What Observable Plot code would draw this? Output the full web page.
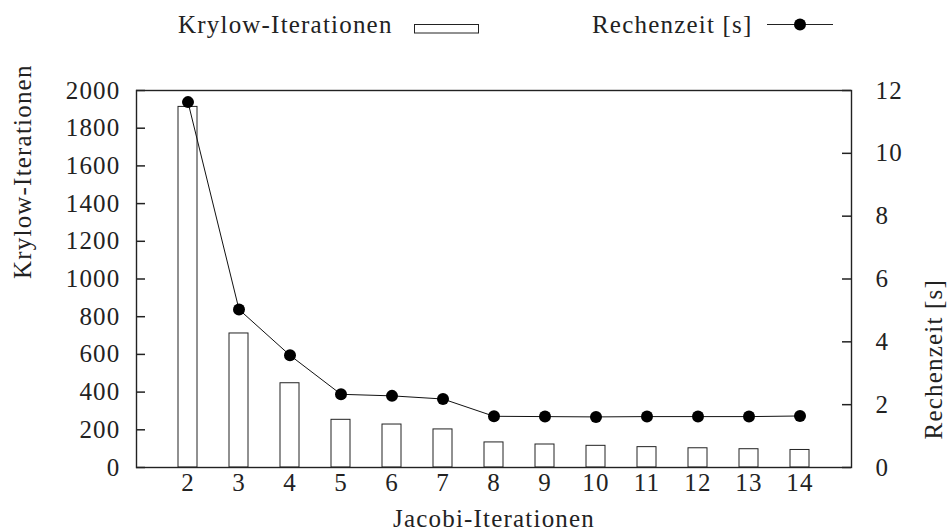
<!DOCTYPE html>
<html>
<head>
<meta charset="utf-8">
<script src="https://cdn.jsdelivr.net/npm/d3@7"></script>
<script src="https://cdn.jsdelivr.net/npm/@observablehq/plot@0.6"></script>
<style>
  html, body { margin: 0; padding: 0; background: white; }
  #wrap { width: 950px; font-family: "Liberation Serif", serif; }
  #legend text { font-family: "Liberation Serif", serif; font-size: 25px; letter-spacing: 1.2px; fill: #222; }
</style>
</head>
<body>
<div id="wrap">
  <svg id="legend" width="950" height="60"></svg>
  <div id="chart"></div>
</div>
<script>
// ---- data ----
const jacobi = [2, 3, 4, 5, 6, 7, 8, 9, 10, 11, 12, 13, 14];
const krylow = [1913, 711, 447, 253, 228, 202, 133, 122, 115, 108, 102, 97, 93];
const rechenzeit = [11.63, 5.03, 3.57, 2.33, 2.28, 2.18, 1.63, 1.62, 1.61, 1.62, 1.62, 1.62, 1.64];
const leftTicks = [0, 200, 400, 600, 800, 1000, 1200, 1400, 1600, 1800, 2000];
const rightTicks = [0, 2, 4, 6, 8, 10, 12];
const yMax = 2000, tMax = 12;
const labels = {x: "Jacobi-Iterationen", yLeft: "Krylow-Iterationen", yRight: "Rechenzeit [s]"};

const rows = jacobi.map((j, i) => ({j, k: krylow[i], t: rechenzeit[i]}));
const toLeft = (t) => t * yMax / tMax;

// ---- legend ----
const lg = d3.select("#legend");
lg.append("text").attr("x", 178).attr("y", 33).text(labels.yLeft);
lg.append("rect").attr("x", 414.5).attr("y", 24.5).attr("width", 64).attr("height", 8.5)
  .attr("fill", "white").attr("stroke", "#222").attr("stroke-width", 1);
lg.append("text").attr("x", 592).attr("y", 33).text(labels.yRight);
lg.append("line").attr("x1", 767).attr("x2", 833).attr("y1", 24.5).attr("y2", 24.5)
  .attr("stroke", "#222").attr("stroke-width", 1);
lg.append("circle").attr("cx", 800).attr("cy", 24.5).attr("r", 6).attr("fill", "black");

// ---- chart ----
const chart = Plot.plot({
  width: 950,
  height: 472,
  marginTop: 26,
  marginBottom: 69,
  marginLeft: 136,
  marginRight: 99,
  style: {fontFamily: "'Liberation Serif', serif", fontSize: "25px", letterSpacing: "1.2px", background: "white", color: "#222"},
  x: {type: "band", domain: jacobi, paddingInner: 0.63, paddingOuter: 0.815, align: 0.5, axis: null},
  y: {domain: [0, yMax], axis: null},
  marks: [
    Plot.barY(rows, {x: "j", y: "k", fill: "white", stroke: "#222", strokeWidth: 1}),
    Plot.line(rows, {x: "j", y: d => toLeft(d.t), stroke: "#111", strokeWidth: 1}),
    Plot.dot(rows, {x: "j", y: d => toLeft(d.t), r: 6, fill: "black", stroke: null}),
    // inward tick marks
    Plot.ruleY(leftTicks, {y: d => d, insetRight: 706, stroke: "#222", strokeWidth: 1.5}),
    Plot.ruleY(rightTicks.map(toLeft), {y: d => d, insetLeft: 706, stroke: "#222", strokeWidth: 1.5}),
    Plot.axisX({tickSize: 0, tickPadding: 6, label: null}),
    Plot.axisY(leftTicks, {anchor: "left", tickSize: 0, tickPadding: 16, label: null, tickFormat: d => String(d)}),
    Plot.axisY(rightTicks.map(toLeft), {anchor: "right", tickSize: 0, tickPadding: 24, label: null,
      tickFormat: d => String(Math.round(d * tMax / yMax))}),
    Plot.frame({stroke: "#222", strokeWidth: 1.4}),
    Plot.text([labels.x], {frameAnchor: "bottom", dy: 59, text: d => d}),
    Plot.text([labels.yLeft], {frameAnchor: "left", dx: -114, rotate: -90, text: d => d}),
    Plot.text([labels.yRight], {frameAnchor: "right", dx: 82, rotate: -90, text: d => d})
  ]
});
document.getElementById("chart").appendChild(chart);
</script>
</body>
</html>
